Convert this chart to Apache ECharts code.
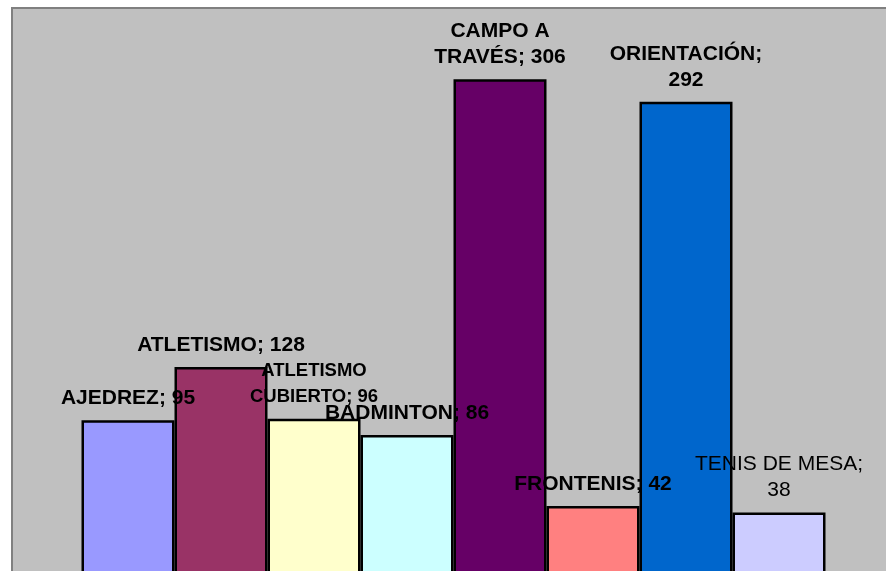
<!DOCTYPE html>
<html>
<head>
<meta charset="utf-8">
<title>Deportes</title>
<script src="https://cdn.jsdelivr.net/npm/echarts@6/dist/echarts.min.js"></script>
<style>
  html, body { margin: 0; padding: 0; background: #fff; }
  #chart { width: 886px; height: 571px; }
</style>
</head>
<body>
<div id="chart"></div>
<script>
// one category, one series per sport (like the original spreadsheet chart)
const sports = ['AJEDREZ', 'ATLETISMO', 'ATLETISMO CUBIERTO', 'BADMINTON', 'CAMPO A TRAVÉS', 'FRONTENIS', 'ORIENTACIÓN', 'TENIS DE MESA']
const counts = [95, 128, 96, 86, 306, 42, 292, 38]
// how the label text is wrapped
const labelNames = ['AJEDREZ', 'ATLETISMO', 'ATLETISMO\nCUBIERTO', 'BADMINTON', 'CAMPO A\nTRAVÉS', 'FRONTENIS', 'ORIENTACIÓN', 'TENIS DE MESA']
const labelSeps = [' ', ' ', ' ', ' ', ' ', ' ', '\n', '\n']
const colors = ['#9999ff', '#993366', '#ffffcc', '#ccffff', '#660066', '#ff8080', '#0066cc', '#ccccff']

const font = '"Liberation Sans", Arial, sans-serif'

const myChart = echarts.init(document.getElementById('chart'))

const series = sports.map((name, i) => {
  let size = 21
  let weight = 'bold'
  if (i === 2) size = 18.5
  if (i === 7) weight = 'normal'
  return {
    name: name,
    type: 'bar',
    barWidth: 93,
    barGap: '0%',
    data: [counts[i]],
    itemStyle: {
      color: colors[i],
      borderColor: '#000',
      borderWidth: 2.5
    },
    label: {
      show: true,
      position: 'top',
      distance: 9,
      color: '#000',
      fontFamily: font,
      fontSize: size,
      fontWeight: weight,
      lineHeight: 26,
      align: 'center',
      formatter: () => labelNames[i] + ';' + labelSeps[i] + counts[i]
    },
    animation: false
  }
})

myChart.setOption({
  backgroundColor: '#fff',
  grid: {
    show: true,
    left: 12,
    top: 8,
    right: -9,
    bottom: -3,
    outerBoundsMode: 'none',
    backgroundColor: '#c0c0c0',
    borderColor: '#808080',
    borderWidth: 2,
    containLabel: false
  },
  xAxis: {
    type: 'category',
    data: [''],
    show: false
  },
  yAxis: {
    type: 'value',
    min: 0,
    max: 350,
    show: false,
    splitLine: { show: false }
  },
  series: series
})
</script>
</body>
</html>
